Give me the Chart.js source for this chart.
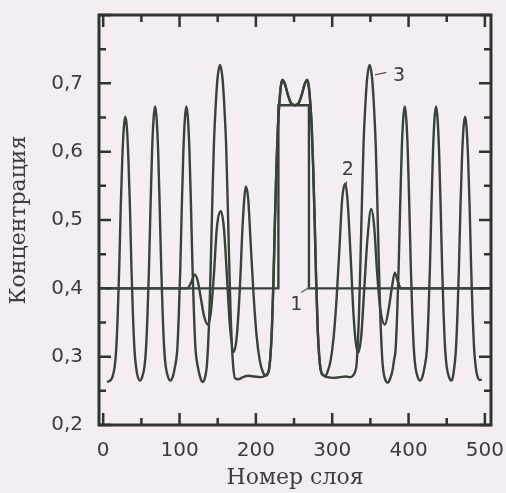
<!DOCTYPE html>
<html><head><meta charset="utf-8">
<script src="https://cdn.jsdelivr.net/npm/chart.js@4"></script>
<style>
html,body{margin:0;padding:0;background:#f4eef4;}
canvas{display:block;}
</style></head>
<body>
<canvas id="c" width="506" height="493"></canvas>
<script>
// ---- tick values and labels ----
const xTicks = [0,50,100,150,200,250,300,350,400,450,500];
const xTickLabels = ['0','','100','','200','','300','','400','','500'];
const yTicks = [0.2,0.25,0.3,0.35,0.4,0.45,0.5,0.55,0.6,0.65,0.7,0.75,0.8];
const yTickLabels = ['0,2','','0,3','','0,4','','0,5','','0,6','','0,7','',''];

// ---- curve 1 (initial step profile) ----
const curve1X = [-5.5, 229.5, 229.5, 269.5, 269.5, 508];
const curve1Y = [0.4, 0.4, 0.668, 0.668, 0.4, 0.4];

// ---- curve 2 ----
const curve2X = [5,110,115,120,124,128,132,137,141,145,149,154,158,162,166,171,175,179,183,187,190,193,197,201,205,209,213,
 217,219,221,223,225,227,229,231,233,235,238,242,246,251,256,260,264,267,269,271,273,275,277,279,281,283,285,288,
 291,294,298,302,306,310,313,317,320,324,328,331,334,338,342,346,351,355,359,363,369,374,378,382,386,390,496];
const curve2Y = [0.40,0.40,0.408,0.42,0.41,0.385,0.36,0.347,0.365,0.42,0.49,0.513,0.49,0.42,0.345,0.307,0.33,0.40,0.50,0.549,0.53,0.47,0.39,0.33,0.295,0.278,0.272,
 0.28,0.30,0.34,0.41,0.50,0.58,0.64,0.675,0.698,0.705,0.699,0.683,0.671,0.668,0.671,0.683,0.699,0.705,0.698,0.675,0.64,0.58,0.50,0.41,0.34,0.30,0.28,0.273,
 0.272,0.278,0.295,0.33,0.39,0.47,0.53,0.553,0.53,0.45,0.36,0.32,0.306,0.33,0.40,0.47,0.516,0.49,0.42,0.37,0.347,0.37,0.40,0.423,0.41,0.40,0.40];

// ---- curve 3 ----
const curve3X = [5,9,12,15,17,19,21,23,25,27,29,31,33,35,37,39,41,43,45,48,
 51,54,56,58,60,62,64,66,68,70,72,74,76,78,80,82,85,88,
 91,94,97,99,101,103,105,107,109,111,113,115,117,119,121,124,127,130,
 133,136,139,141,143,145,148,150,153,156,158,161,163,165,167,170,173,
 177,183,190,198,206,212,215,
 217,219,221,223,225,227,229,231,233,235,238,242,246,251,256,260,264,267,269,271,273,275,277,279,281,283,285,288,
 294,302,310,318,324,327,330,332,335,337,339,341,344,346,349,352,354,357,359,361,363,366,369,373,
 376,379,381,383,385,387,389,391,393,395,397,399,401,403,405,407,409,412,415,
 418,421,424,426,428,430,432,434,436,438,440,442,444,446,448,450,453,456,
 458,460,462,464,466,468,470,472,474,476,478,480,482,484,486,488,490,493,496];
const curve3Y = [0.263,0.265,0.27,0.285,0.31,0.36,0.43,0.52,0.59,0.635,0.651,0.635,0.59,0.52,0.43,0.36,0.31,0.285,0.272,0.265,
 0.27,0.285,0.31,0.36,0.43,0.52,0.60,0.648,0.666,0.648,0.60,0.52,0.43,0.36,0.31,0.285,0.27,0.265,
 0.27,0.285,0.31,0.36,0.43,0.52,0.60,0.648,0.666,0.648,0.60,0.52,0.43,0.36,0.31,0.285,0.27,0.263,
 0.268,0.29,0.36,0.44,0.53,0.61,0.68,0.71,0.727,0.71,0.68,0.61,0.53,0.44,0.36,0.29,0.268,
 0.267,0.27,0.272,0.271,0.27,0.272,0.275,
 0.28,0.30,0.34,0.41,0.50,0.58,0.64,0.675,0.698,0.705,0.699,0.683,0.671,0.668,0.671,0.683,0.699,0.705,0.698,0.675,0.64,0.58,0.50,0.41,0.34,0.30,0.28,0.273,
 0.27,0.269,0.27,0.271,0.27,0.272,0.278,0.29,0.36,0.44,0.53,0.61,0.68,0.71,0.727,0.71,0.68,0.61,0.53,0.44,0.36,0.29,0.268,0.262,
 0.268,0.28,0.295,0.31,0.36,0.43,0.52,0.60,0.648,0.666,0.648,0.60,0.52,0.43,0.36,0.31,0.285,0.27,0.265,
 0.27,0.285,0.31,0.36,0.43,0.52,0.60,0.648,0.666,0.648,0.60,0.52,0.43,0.36,0.31,0.285,0.27,0.265,
 0.27,0.285,0.31,0.36,0.43,0.52,0.59,0.635,0.651,0.635,0.59,0.52,0.43,0.36,0.31,0.285,0.272,0.266,0.266];

const toPts = (xs, ys) => xs.map((x, i) => ({x: x, y: ys[i]}));
const LINE = '#38423a';
const TEXT = '#3c3c3c';

const framePlugin = {
  id: 'frame',
  afterDatasetsDraw(chart) {
    const {ctx, chartArea: {left, right, top, bottom}, scales: {x, y}} = chart;
    ctx.save();
    ctx.strokeStyle = '#2e342f';
    ctx.lineWidth = 2.5;
    ctx.beginPath();
    xTicks.forEach((v, i) => {
      const px = x.getPixelForValue(v);
      const len = (i % 2 === 0) ? 12 : 7;
      ctx.moveTo(px, bottom); ctx.lineTo(px, bottom - len);
      ctx.moveTo(px, top); ctx.lineTo(px, top + len);
    });
    yTicks.forEach((v, i) => {
      const py = y.getPixelForValue(v);
      const len = (i % 2 === 0) ? 12 : 7;
      ctx.moveTo(left, py); ctx.lineTo(left + len, py);
      ctx.moveTo(right, py); ctx.lineTo(right - len, py);
    });
    ctx.stroke();
    ctx.lineWidth = 3;
    ctx.strokeRect(left, top, right - left, bottom - top);

    // curve labels with leader lines
    ctx.fillStyle = TEXT;
    ctx.strokeStyle = '#555';
    ctx.lineWidth = 1.2;
    ctx.font = '19px "DejaVu Sans"';
    ctx.textAlign = 'center';
    ctx.textBaseline = 'middle';
    const P = (dx, dy) => [x.getPixelForValue(dx), y.getPixelForValue(dy)];
    const seg = (a, b) => { ctx.beginPath(); ctx.moveTo(a[0], a[1]); ctx.lineTo(b[0], b[1]); ctx.stroke(); };
    let p;
    p = P(387.5, 0.711); ctx.fillText('3', p[0], p[1]);
    seg(P(356, 0.7125), P(371, 0.716));
    p = P(320.5, 0.573); ctx.fillText('2', p[0], p[1]);
    seg(P(319, 0.556), P(317.5, 0.548));
    p = P(253, 0.376); ctx.fillText('1', p[0], p[1]);
    seg(P(259.5, 0.394), P(270.5, 0.402));
    ctx.restore();
  }
};

const noPad = s => { s.paddingLeft = 0; s.paddingRight = 0; s.paddingTop = 0; s.paddingBottom = 0; };

new Chart(document.getElementById('c'), {
  type: 'line',
  data: {
    datasets: [
      {data: toPts(curve1X, curve1Y), borderColor: LINE, borderWidth: 2.4, pointRadius: 0, tension: 0, fill: false},
      {data: toPts(curve2X, curve2Y), borderColor: LINE, borderWidth: 2.4, pointRadius: 0, cubicInterpolationMode: 'monotone', fill: false},
      {data: toPts(curve3X, curve3Y), borderColor: LINE, borderWidth: 2.4, pointRadius: 0, cubicInterpolationMode: 'monotone', fill: false}
    ]
  },
  options: {
    responsive: false,
    animation: false,
    devicePixelRatio: 1,
    layout: {padding: {top: 15, right: 15, left: 0, bottom: 0}},
    plugins: {legend: {display: false}, tooltip: {enabled: false}},
    scales: {
      x: {
        type: 'linear', min: -5.5, max: 508,
        grid: {display: false, drawTicks: false},
        border: {display: false},
        afterBuildTicks: s => { s.ticks = xTicks.map(v => ({value: v})); },
        afterFit: s => { s.height = 68; noPad(s); },
        ticks: {
          autoSkip: false, maxRotation: 0, padding: 14, color: TEXT,
          font: {family: 'DejaVu Sans', size: 20},
          callback: (v, i) => xTickLabels[i]
        },
        title: {display: true, text: 'Номер слоя', color: TEXT,
          font: {family: 'DejaVu Serif', size: 22}, padding: {top: 0, bottom: 2}}
      },
      y: {
        type: 'linear', min: 0.2, max: 0.8,
        grid: {display: false, drawTicks: false},
        border: {display: false},
        afterBuildTicks: s => { s.ticks = yTicks.map(v => ({value: v})); },
        afterFit: s => { s.width = 99; noPad(s); },
        ticks: {
          autoSkip: false, padding: 16, color: TEXT,
          font: {family: 'DejaVu Sans', size: 20},
          callback: (v, i) => yTickLabels[i]
        },
        title: {display: true, text: 'Концентрация', color: TEXT,
          font: {family: 'DejaVu Serif', size: 22}, padding: {top: 6, bottom: 0}}
      }
    }
  },
  plugins: [framePlugin]
});
</script>
</body></html>
